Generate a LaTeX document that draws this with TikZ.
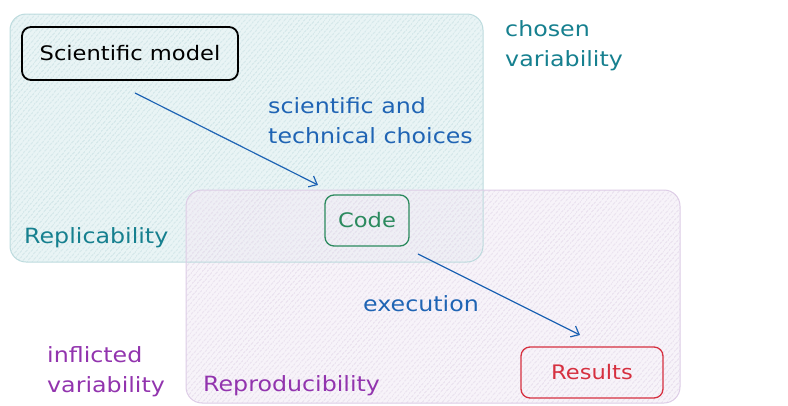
\documentclass[tikz,border=0pt]{standalone}
\usepackage{fontspec}
\setmainfont[FakeStretch=1.13]{DejaVu Sans}
\usetikzlibrary{patterns.meta,arrows.meta}
\definecolor{tealbox}{HTML}{E3F1F2}
\definecolor{tealedge}{HTML}{B7D8DB}
\definecolor{tealhatch}{HTML}{B8D6DA}
\definecolor{purpbox}{HTML}{F3EEF6}
\definecolor{purpedge}{HTML}{DDCCE6}
\definecolor{purphatch}{HTML}{D9CBE3}
\definecolor{tealtext}{HTML}{16808F}
\definecolor{purptext}{HTML}{9234AE}
\definecolor{bluetext}{HTML}{1F64B4}
\definecolor{greentext}{HTML}{2B8A5E}
\definecolor{redtext}{HTML}{D63040}
\tikzset{
  x=1pt,y=-1pt,
  region/.style={rounded corners=16pt, line width=1pt},
  item/.style={draw, rounded corners=9pt, line width=1.8pt, inner sep=0pt, font=\fontsize{20}{24}\selectfont},
  lab/.style={font=\fontsize{21}{30}\selectfont, inner sep=0pt},
  conn/.style={draw=bluetext, line width=1.2pt, -{Straight Barb[length=7pt,width=12pt]}},
}
\begin{document}
\begin{tikzpicture}
\useasboundingbox (0,0) rectangle (788,405);
% Replicability region
\fill[region, tealbox, fill opacity=0.8] (10,14) rectangle (483,262);
\fill[region, pattern={Lines[angle=50,distance=4pt,line width=0.7pt]}, pattern color=tealhatch] (10,14) rectangle (483,262);
% Reproducibility region
\fill[region, purpbox, fill opacity=0.7] (186,190) rectangle (680,403);
\fill[region, pattern={Lines[angle=50,distance=4pt,line width=0.7pt]}, pattern color=purphatch] (186,190) rectangle (680,403);
\draw[region, tealedge, draw opacity=0.9] (10,14) rectangle (483,262);
\draw[region, purpedge] (186,190) rectangle (680,403);
% nodes
\node[item, draw=black, minimum width=216pt, minimum height=53pt] (model) at (130,53.5) {Scientific model};
\node[item, draw=greentext, text=greentext, minimum width=84pt, minimum height=51pt, line width=1.3pt] (code) at (367,220.5) {Code};
\node[item, draw=redtext, text=redtext, minimum width=142pt, minimum height=51pt, line width=1.3pt] (results) at (592,372.5) {Results};
% connectors
\coordinate (a1s) at (135,93);
\coordinate (a1e) at (318,185);
\coordinate (a2s) at (418,254);
\coordinate (a2e) at (580,335);
\draw[conn] (a1s) -- (a1e);
\draw[conn] (a2s) -- (a2e);
% labels
\node[lab, text=bluetext, align=left, anchor=west] (choices) at (268,121) {scientific and\\technical choices};
\node[lab, text=bluetext] (exec) at (421,304) {execution};
\node[lab, text=tealtext, anchor=west] (repl) at (24,238) {Replicability};
\node[lab, text=purptext, anchor=west] (repr) at (203,386) {Reproducibility};
\node[lab, text=tealtext, align=left, anchor=west] (chosen) at (505,46) {chosen\\variability};
\node[lab, text=purptext, align=left, anchor=west] (inflicted) at (47,372) {inflicted\\variability};
\end{tikzpicture}
\end{document}
